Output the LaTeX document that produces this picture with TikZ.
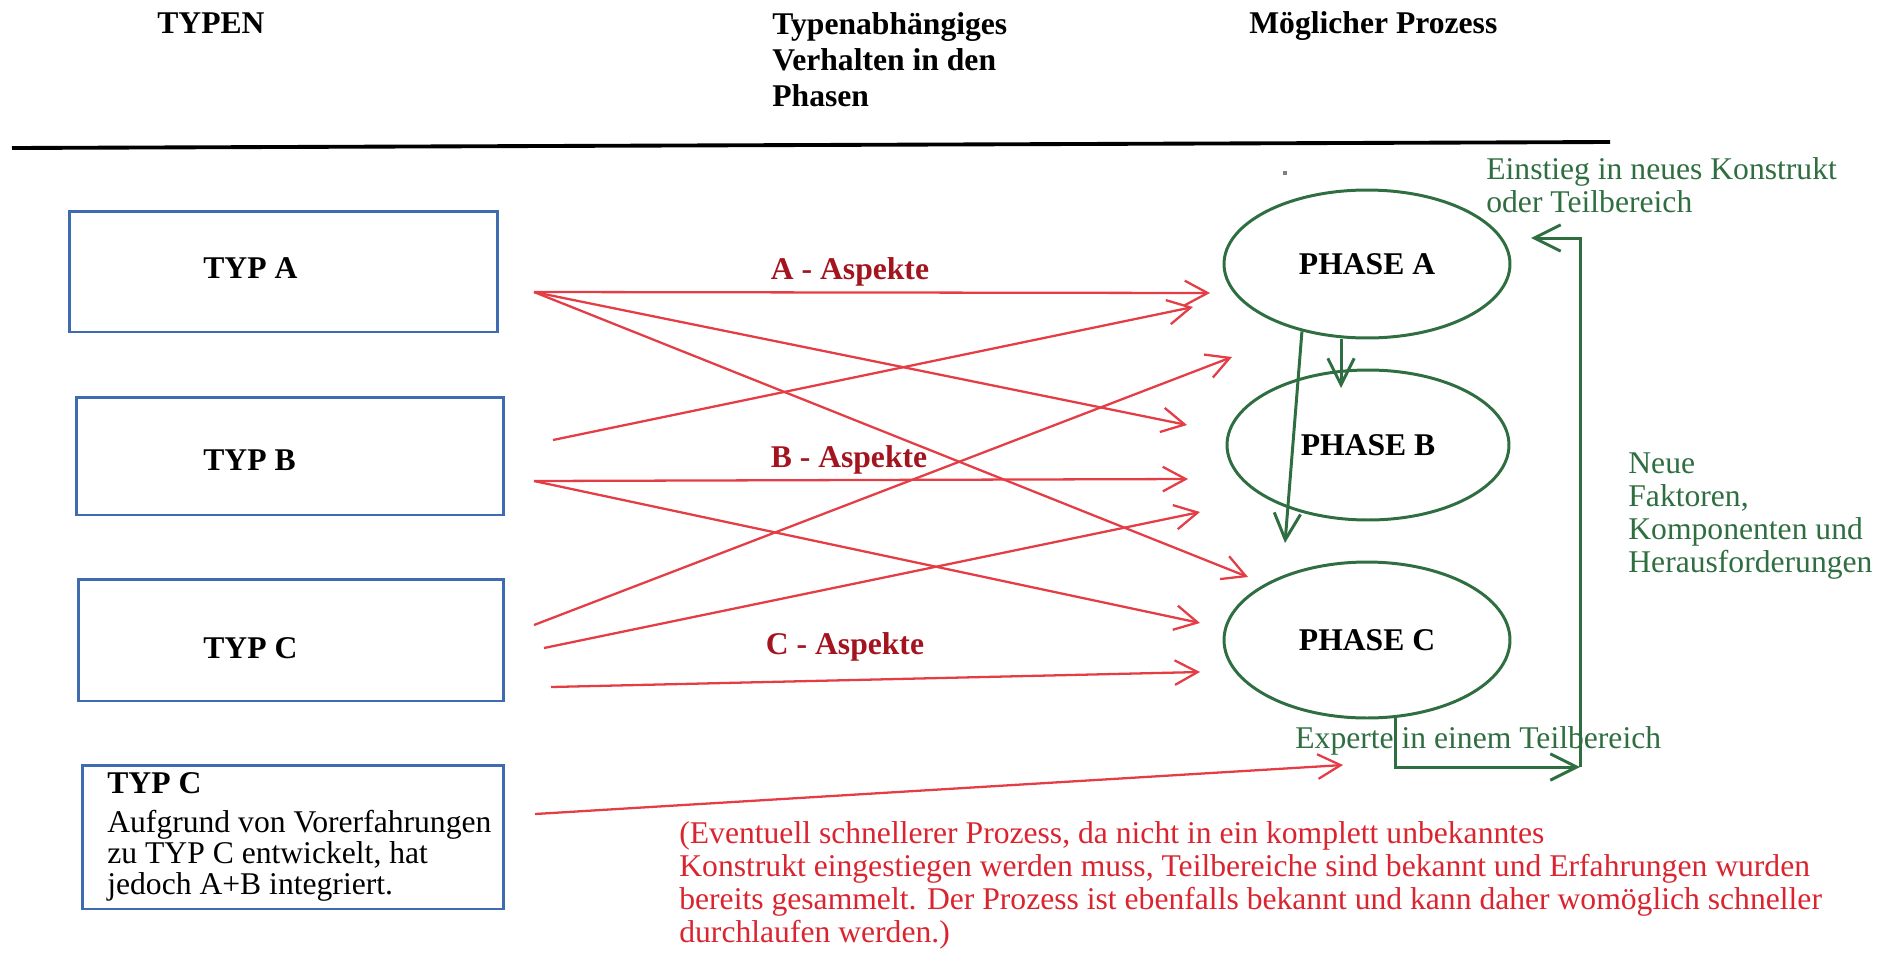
\documentclass[tikz,border=0pt]{standalone}
\usepackage{fontspec}
\setmainfont{Liberation Serif}
\usepackage{xcolor}
\definecolor{typblue}{HTML}{3F6CB0}
\definecolor{aspektred}{HTML}{E43D45}
\definecolor{aspektdarkred}{HTML}{A3141F}
\definecolor{phasegreen}{HTML}{2F6E40}
\definecolor{notered}{HTML}{DA2530}
\usepackage{tikz}
\usetikzlibrary{%
      arrows.meta,%
  shapes.geometric%
  }
\newcommand{\diagfont}{\fontsize{18}{18.8}\selectfont}

\tikzset{
  head/.style={font=\fontsize{18}{20.6}\selectfont\bfseries, align=left, inner sep=0pt},
  plain/.style={font=\diagfont, align=left, inner sep=0pt},
  typbox/.style={draw=typblue, line width=1.7pt, inner sep=0pt},
  phase/.style={ellipse, draw=phasegreen, line width=1.7pt, inner sep=0pt, font=\diagfont\bfseries},
  aspekt/.style={font=\diagfont\bfseries, text=aspektdarkred, inner sep=0pt},
  redarrow/.style={draw=aspektred, line width=1.3pt, -{Straight Barb[length=13pt,width=14pt]}},
  greenarrow/.style={draw=phasegreen, line width=1.7pt, -{Straight Barb[length=15pt,width=15pt]}}
}

\begin{document}
\begin{tikzpicture}[x=0.02cm, y=-0.02cm]
    \useasboundingbox (0,0) rectangle (1892,954);
    % column heads
    \node[head, anchor=base west] (typen) at (157,33) {TYPEN};
    \node[head, anchor=north west] (verhalten) at (772,12) {Typenabhängiges\\Verhalten in den\\Phasen};
    \node[head, anchor=base west] (prozess) at (1249,33) {Möglicher Prozess};
    \draw[line width=2.2pt] (12,148) -- (1610,142);

    % types
    \node[typbox, minimum width=8.58cm, minimum height=2.42cm] (typa) at (283.5,271.5) {};
    \node[typbox, minimum width=8.56cm, minimum height=2.36cm] (typb) at (290,456) {};
    \node[typbox, minimum width=8.52cm, minimum height=2.44cm] (typc) at (291,640) {};
    \node[typbox, minimum width=8.44cm, minimum height=2.88cm] (typd) at (293,837) {};
    \node[plain, font=\diagfont\bfseries, anchor=base west] (labela) at (203,278) {TYP A};
    \node[plain, font=\diagfont\bfseries, anchor=base west] (labelb) at (203,470) {TYP B};
    \node[plain, font=\diagfont\bfseries, anchor=base west] (labelc) at (203,658) {TYP C};
    \node[plain, font=\fontsize{18}{17.6}\selectfont, anchor=north west] (labeld) at (107,772)
      {\textbf{TYP C}\\[4.6pt]Aufgrund von Vorerfahrungen\\zu TYP C entwickelt, hat\\jedoch A+B integriert.};

    % phases
    \node[phase, minimum width=5.72cm, minimum height=2.96cm] (pa) at (1367,264) {PHASE A};
    \node[phase, minimum width=5.64cm, minimum height=3.0cm] (pb) at (1368,445) {PHASE B};
    \node[phase, minimum width=5.72cm, minimum height=3.12cm] (pc) at (1367,640) {PHASE C};
    \fill[gray] (1283,171) rectangle (1287,175);

    % aspects
    \node[aspekt] (aspa) at (850,272) {A - Aspekte};
    \node[aspekt] (aspb) at (849,460) {B - Aspekte};
    \node[aspekt] (aspc) at (845,647) {C - Aspekte};

    \coordinate (outa) at (534,292);
    \coordinate (outb1) at (553,440);
    \coordinate (outb2) at (534,481);
    \coordinate (outc1) at (534,625);
    \coordinate (outc2) at (544,648);
    \coordinate (outc3) at (551,687);
    \coordinate (outd) at (535,814);
    \coordinate (ina1) at (1210,293);
    \coordinate (ina2) at (1193,307);
    \coordinate (ina3) at (1232,357);
    \coordinate (inb1) at (1187,425);
    \coordinate (inb2) at (1188,479);
    \coordinate (inb3) at (1200,512);
    \coordinate (inc1) at (1248,577);
    \coordinate (inc2) at (1200,623);
    \coordinate (inc3) at (1200,672);
    \coordinate (ind) at (1343,765);

    \draw[redarrow] (outa) -- (ina1);
    \draw[redarrow] (outa) -- (inb1);
    \draw[redarrow] (outa) -- (inc1);
    \draw[redarrow] (outb1) -- (ina2);
    \draw[redarrow] (outb2) -- (inb2);
    \draw[redarrow] (outb2) -- (inc2);
    \draw[redarrow] (outc1) -- (ina3);
    \draw[redarrow] (outc2) -- (inb3);
    \draw[redarrow] (outc3) -- (inc3);
    \draw[redarrow] (outd) -- (ind);

    % process
    \coordinate (abtip) at (1341,388);
    \coordinate (actip) at (1285,543);
    \coordinate (loopc) at (1580,767);
    \coordinate (loopa) at (1531,238);
    \draw[greenarrow] (pa.south -| abtip) -- (abtip);
    \draw[greenarrow] (pa.226) -- (actip);
    \draw[greenarrow] (pc.290) |- (loopc);
    \draw[greenarrow] (loopc) |- (loopa);

    \node[plain, text=phasegreen, anchor=north west] (einstieg) at (1486,157) {Einstieg in neues Konstrukt\\oder Teilbereich};
    \node[plain, text=phasegreen, anchor=north west] (neue) at (1628,452) {Neue\\Faktoren,\\Komponenten und\\Herausforderungen};
    \node[plain, text=phasegreen, anchor=base west] (experte) at (1295,748) {Experte in einem Teilbereich};
    \node[plain, text=notered, anchor=north west] (eventuell) at (679,821)
      {(Eventuell schnellerer Prozess, da nicht in ein komplett unbekanntes\\Konstrukt eingestiegen werden muss, Teilbereiche sind bekannt und Erfahrungen wurden\\bereits gesammelt. Der Prozess ist ebenfalls bekannt und kann daher womöglich schneller\\durchlaufen werden.)};
\end{tikzpicture}
\end{document}
